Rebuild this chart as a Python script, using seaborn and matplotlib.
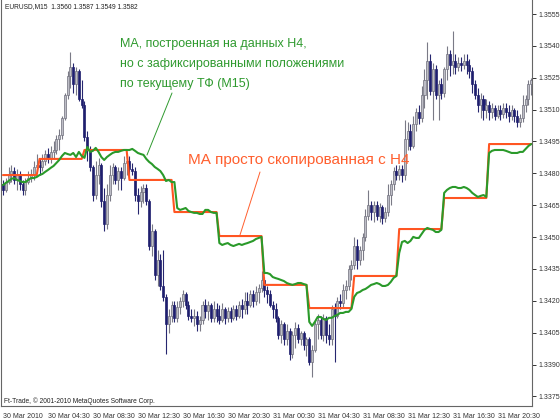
import numpy as np
import pandas as pd
import matplotlib
matplotlib.use("Agg")
import matplotlib.pyplot as plt
import seaborn as sns
from matplotlib.patches import Rectangle

# ---------------- data (EURUSD M15) ----------------
open_ = [1.3475,1.3472,1.3476,1.3479,1.3481,1.3477,1.3479,1.3475,1.3472,1.3476,
         1.3478,1.3479,1.3483,1.3484,1.3483,1.3486,1.3489,1.3487,1.3490,1.3491,
         1.3496,1.3498,1.3506,1.3517,1.3526,1.3530,1.3522,1.3528,1.3515,1.3512,
         1.3497,1.3491,1.3483,1.3470,1.3479,1.3484,1.3467,1.3456,1.3470,1.3479,
         1.3483,1.3477,1.3481,1.3478,1.3485,1.3486,1.3482,1.3481,1.3470,1.3467,
         1.3471,1.3473,1.3467,1.3446,1.3453,1.3432,1.3439,1.3427,1.3422,1.3409,
         1.3413,1.3418,1.3412,1.3417,1.3420,1.3423,1.3418,1.3413,1.3412,1.3413,
         1.3409,1.3411,1.3418,1.3415,1.3418,1.3412,1.3416,1.3413,1.3411,1.3416,
         1.3412,1.3415,1.3412,1.3416,1.3413,1.3418,1.3416,1.3420,1.3418,1.3423,
         1.3420,1.3424,1.3426,1.3430,1.3425,1.3423,1.3418,1.3416,1.3412,1.3404,
         1.3409,1.3402,1.3406,1.3395,1.3404,1.3407,1.3402,1.3405,1.3399,1.3402,
         1.3391,1.3397,1.3409,1.3411,1.3404,1.3412,1.3404,1.3402,1.3416,1.3413,
         1.3420,1.3419,1.3425,1.3427,1.3435,1.3437,1.3446,1.3439,1.3444,1.3450,
         1.3460,1.3465,1.3462,1.3465,1.3460,1.3464,1.3459,1.3462,1.3470,1.3475,
         1.3481,1.3479,1.3482,1.3479,1.3496,1.3500,1.3493,1.3503,1.3509,1.3506,
         1.3517,1.3524,1.3533,1.3519,1.3529,1.3517,1.3522,1.3518,1.3529,1.3536,
         1.3531,1.3533,1.3530,1.3532,1.3531,1.3533,1.3531,1.3528,1.3522,1.3517,
         1.3512,1.3515,1.3510,1.3512,1.3509,1.3511,1.3507,1.3510,1.3508,1.3511,
         1.3509,1.3507,1.3510,1.3507,1.3504,1.3506,1.3512,1.3515,1.3522]
close = [1.3472,1.3476,1.3479,1.3481,1.3477,1.3479,1.3475,1.3472,1.3476,1.3478,
         1.3479,1.3483,1.3484,1.3483,1.3486,1.3489,1.3487,1.3490,1.3491,1.3496,
         1.3498,1.3506,1.3517,1.3526,1.3530,1.3522,1.3528,1.3515,1.3512,1.3497,
         1.3491,1.3483,1.3470,1.3479,1.3484,1.3467,1.3456,1.3470,1.3479,1.3483,
         1.3477,1.3481,1.3478,1.3485,1.3486,1.3482,1.3481,1.3470,1.3467,1.3471,
         1.3473,1.3467,1.3446,1.3453,1.3432,1.3439,1.3427,1.3422,1.3409,1.3413,
         1.3418,1.3412,1.3417,1.3420,1.3423,1.3418,1.3413,1.3412,1.3413,1.3409,
         1.3411,1.3418,1.3415,1.3418,1.3412,1.3416,1.3413,1.3411,1.3416,1.3412,
         1.3415,1.3412,1.3416,1.3413,1.3418,1.3416,1.3420,1.3418,1.3423,1.3420,
         1.3424,1.3426,1.3430,1.3425,1.3423,1.3418,1.3416,1.3412,1.3404,1.3409,
         1.3402,1.3406,1.3395,1.3404,1.3407,1.3402,1.3405,1.3399,1.3402,1.3391,
         1.3397,1.3409,1.3411,1.3404,1.3412,1.3404,1.3402,1.3416,1.3413,1.3420,
         1.3419,1.3425,1.3427,1.3435,1.3437,1.3446,1.3439,1.3444,1.3450,1.3460,
         1.3465,1.3462,1.3465,1.3460,1.3464,1.3459,1.3462,1.3470,1.3475,1.3481,
         1.3479,1.3482,1.3479,1.3496,1.3500,1.3493,1.3503,1.3509,1.3506,1.3517,
         1.3524,1.3533,1.3519,1.3529,1.3517,1.3522,1.3518,1.3529,1.3536,1.3531,
         1.3533,1.3530,1.3532,1.3531,1.3533,1.3531,1.3528,1.3522,1.3517,1.3512,
         1.3515,1.3510,1.3512,1.3509,1.3511,1.3507,1.3510,1.3508,1.3511,1.3509,
         1.3507,1.3510,1.3507,1.3504,1.3506,1.3512,1.3515,1.3522,1.3524]
high = [1.3477,1.3478,1.3483,1.3484,1.3483,1.3482,1.3481,1.3477,1.3478,1.3481,
        1.3482,1.3486,1.3489,1.3487,1.3489,1.3491,1.3492,1.3493,1.3495,1.3498,
        1.3501,1.3507,1.3518,1.3528,1.3537,1.3532,1.3530,1.3529,1.3524,1.3514,
        1.3500,1.3493,1.3484,1.3486,1.3487,1.3485,1.3473,1.3475,1.3484,1.3485,
        1.3484,1.3483,1.3483,1.3488,1.3489,1.3488,1.3485,1.3483,1.3473,1.3474,
        1.3475,1.3475,1.3468,1.3456,1.3454,1.3444,1.3442,1.3444,1.3423,1.3416,
        1.3420,1.3420,1.3420,1.3422,1.3425,1.3424,1.3420,1.3416,1.3416,1.3415,
        1.3413,1.3420,1.3421,1.3420,1.3419,1.3420,1.3419,1.3418,1.3419,1.3417,
        1.3417,1.3417,1.3418,1.3418,1.3420,1.3421,1.3424,1.3424,1.3425,1.3425,
        1.3427,1.3428,1.3434,1.3431,1.3427,1.3425,1.3420,1.3419,1.3413,1.3411,
        1.3410,1.3409,1.3407,1.3406,1.3410,1.3409,1.3406,1.3406,1.3403,1.3403,
        1.3399,1.3411,1.3414,1.3413,1.3414,1.3413,1.3409,1.3418,1.3419,1.3422,
        1.3423,1.3428,1.3430,1.3437,1.3439,1.3450,1.3449,1.3446,1.3452,1.3463,
        1.3472,1.3467,1.3467,1.3467,1.3466,1.3465,1.3464,1.3475,1.3477,1.3483,
        1.3484,1.3484,1.3484,1.3505,1.3504,1.3503,1.3507,1.3511,1.3512,1.3521,
        1.3529,1.3542,1.3536,1.3532,1.3531,1.3524,1.3525,1.3530,1.3540,1.3538,
        1.3547,1.3536,1.3535,1.3535,1.3536,1.3536,1.3534,1.3530,1.3524,1.3520,
        1.3518,1.3517,1.3515,1.3514,1.3513,1.3512,1.3512,1.3512,1.3513,1.3513,
        1.3512,1.3512,1.3511,1.3510,1.3508,1.3517,1.3517,1.3524,1.3525]
low = [1.3470,1.3471,1.3475,1.3476,1.3475,1.3472,1.3472,1.3470,1.3470,1.3475,
       1.3476,1.3477,1.3481,1.3479,1.3481,1.3484,1.3485,1.3485,1.3487,1.3489,
       1.3491,1.3496,1.3505,1.3515,1.3520,1.3518,1.3517,1.3514,1.3511,1.3495,
       1.3486,1.3481,1.3467,1.3468,1.3475,1.3464,1.3453,1.3454,1.3467,1.3475,
       1.3475,1.3472,1.3472,1.3477,1.3479,1.3478,1.3479,1.3467,1.3461,1.3464,
       1.3466,1.3465,1.3444,1.3441,1.3430,1.3427,1.3425,1.3420,1.3395,1.3405,
       1.3410,1.3410,1.3410,1.3414,1.3417,1.3416,1.3411,1.3410,1.3408,1.3406,
       1.3406,1.3409,1.3412,1.3411,1.3410,1.3410,1.3410,1.3409,1.3410,1.3409,
       1.3410,1.3410,1.3411,1.3411,1.3412,1.3412,1.3414,1.3414,1.3417,1.3417,
       1.3418,1.3419,1.3424,1.3422,1.3419,1.3417,1.3412,1.3410,1.3402,1.3400,
       1.3399,1.3399,1.3392,1.3393,1.3398,1.3400,1.3399,1.3397,1.3394,1.3390,
       1.3384,1.3396,1.3402,1.3402,1.3401,1.3400,1.3399,1.3399,1.3391,1.3412,
       1.3416,1.3417,1.3421,1.3425,1.3430,1.3435,1.3435,1.3437,1.3439,1.3448,
       1.3458,1.3458,1.3457,1.3458,1.3457,1.3456,1.3457,1.3460,1.3465,1.3472,
       1.3477,1.3477,1.3476,1.3477,1.3491,1.3491,1.3492,1.3500,1.3503,1.3504,
       1.3511,1.3515,1.3517,1.3505,1.3515,1.3505,1.3515,1.3516,1.3524,1.3526,
       1.3527,1.3527,1.3528,1.3528,1.3529,1.3527,1.3525,1.3518,1.3515,1.3509,
       1.3506,1.3505,1.3506,1.3505,1.3506,1.3505,1.3506,1.3505,1.3506,1.3506,
       1.3504,1.3505,1.3504,1.3502,1.3502,1.3504,1.3509,1.3512,1.3517]

# MA built on H4 data, with positions fixed to the current timeframe (M15)
ma_m15 = [1.34745,1.34755,1.34764,1.34774,1.34778,1.34769,1.34764,1.34759,1.34759,1.34769,
          1.34778,1.34778,1.34783,1.34792,1.34797,1.34807,1.34816,1.34826,1.34835,1.34849,
          1.34863,1.34882,1.34896,1.34891,1.34887,1.34896,1.34877,1.34901,1.34882,1.34873,
          1.34924,1.34901,1.34906,1.34920,1.34901,1.34877,1.34863,1.34877,1.34887,1.34896,
          1.34901,1.34901,1.34906,1.34910,1.34910,1.34910,1.34915,1.34906,1.34896,1.34891,
          1.34887,1.34868,1.34854,1.34844,1.34830,1.34821,1.34811,1.34792,1.34764,1.34769,
          1.34759,1.34759,1.34637,1.34628,1.34632,1.34637,1.34623,1.34618,1.34614,1.34614,
          1.34609,1.34609,1.34628,1.34628,1.34618,1.34614,1.34614,1.34472,1.34463,1.34468,
          1.34472,1.34463,1.34458,1.34463,1.34468,1.34463,1.34468,1.34472,1.34477,1.34482,
          1.34491,1.34496,1.34501,1.34331,1.34331,1.34326,1.34312,1.34307,1.34303,1.34298,
          1.34293,1.34284,1.34279,1.34275,1.34279,1.34284,1.34284,1.34279,1.34275,1.34101,
          1.34082,1.34101,1.34124,1.34124,1.34115,1.34110,1.34120,1.34120,1.34129,1.34134,
          1.34143,1.34143,1.34148,1.34148,1.34162,1.34219,1.34237,1.34242,1.34251,1.34256,
          1.34265,1.34275,1.34279,1.34284,1.34279,1.34270,1.34270,1.34275,1.34289,1.34308,
          1.34317,1.34425,1.34477,1.34482,1.34472,1.34482,1.34501,1.34496,1.34496,1.34515,
          1.34534,1.34543,1.34538,1.34534,1.34524,1.34524,1.34534,1.34708,1.34722,1.34731,
          1.34736,1.34736,1.34731,1.34731,1.34736,1.34731,1.34722,1.34708,1.34698,1.34689,
          1.34694,1.34698,1.34689,1.34896,1.34906,1.34910,1.34910,1.34910,1.34910,1.34906,
          1.34901,1.34896,1.34896,1.34896,1.34901,1.34901,1.34915,1.34929,1.34938]

# MA simply copied from H4: one level per H4 bar, starting at these M15 bars
h4_levels = [1.34792, 1.34868, 1.34910, 1.34769, 1.34618, 1.34505,
             1.34275, 1.34166, 1.34317, 1.34538, 1.34684, 1.34938]
h4_start_bar = [0, 13, 29, 45, 61, 77, 93, 109, 125, 141, 157, 173]

x_tick_bars = [0, 16, 32, 48, 64, 80, 96, 112, 128, 144, 160, 176]
x_tick_labels = ["30 Mar 2010", "30 Mar 04:30", "30 Mar 08:30", "30 Mar 12:30",
                 "30 Mar 16:30", "30 Mar 20:30", "31 Mar 00:30", "31 Mar 04:30",
                 "31 Mar 08:30", "31 Mar 12:30", "31 Mar 16:30", "31 Mar 20:30"]
y_ticks = [1.3375, 1.3390, 1.3405, 1.3420, 1.3435, 1.3450, 1.3465,
           1.3480, 1.3495, 1.3510, 1.3525, 1.3540, 1.3555]

header = "EURUSD,M15  1.3560 1.3587 1.3549 1.3582"
copyright_txt = "Ft-Trade, \u00a9 2001-2010 MetaQuotes Software Corp."
green_text = ["МА, построенная на данных Н4,",
              "но с зафиксированными положениями",
              "по текущему ТФ (М15)"]
orange_text = "МА просто скопированная с Н4"

# ---------------- figure ----------------
sns.set_style("white")
plt.rcParams['font.family'] = ['Liberation Sans', 'DejaVu Sans']

W, H = 560, 420
fig = plt.figure(figsize=(W / 100, H / 100), dpi=100)
fig.patch.set_facecolor("white")
ax = fig.add_axes([1 / W, 14 / H, 531 / W, 406 / H])
ax.set_facecolor("white")

n = len(close)
bars = np.arange(n)
lengths = np.diff(h4_start_bar + [n])
h4_per_bar = np.repeat(h4_levels, lengths)

# candles
bull_face, bull_edge = "#bdbdc6", "#6f6f7c"
bear_face, bear_edge = "#1f1f6e", "#1f1f6e"
for i in range(n):
    o, c, hi, lo = open_[i], close[i], high[i], low[i]
    bull = c >= o
    wick_col = "#7a7a86" if bull else "#26266f"
    ax.vlines(i, lo, hi, colors=wick_col, linewidth=0.8, zorder=2)
    bottom = min(o, c)
    height = max(abs(c - o), 0.00003)
    ax.add_patch(Rectangle((i - 0.36, bottom), 0.72, height,
                           facecolor=bull_face if bull else bear_face,
                           edgecolor=bull_edge if bull else bear_edge,
                           linewidth=0.5, zorder=3))

df = pd.DataFrame({"bar": bars, "h4": h4_per_bar, "ma": ma_m15})
sns.lineplot(data=df, x="bar", y="h4", color="#ff5522", linewidth=1.5,
             ax=ax, zorder=4, legend=False)
sns.lineplot(data=df, x="bar", y="ma", color="#2a9a2a", linewidth=1.5,
             ax=ax, zorder=5, legend=False)

ax.set_xlim(-0.71, 188.26)
ax.set_ylim(1.33705, 1.35616)
ax.set_xlabel("")
ax.set_ylabel("")

ax.yaxis.tick_right()
ax.set_yticks(y_ticks)
ax.set_yticklabels([f"{v:.4f}" for v in y_ticks])
ax.set_xticks(x_tick_bars)
ax.set_xticklabels(x_tick_labels)
for lbl in ax.get_xticklabels():
    lbl.set_horizontalalignment("left")
ax.tick_params(axis="y", which="both", direction="out", length=3, width=0.7,
               colors="#333333", labelsize=5, pad=2, right=True, left=False)
ax.tick_params(axis="x", which="both", direction="out", length=3, width=0.7,
               colors="#333333", labelsize=5, pad=2)
for s in ["left", "bottom", "right"]:
    ax.spines[s].set_visible(True)
    ax.spines[s].set_color("#666666")
    ax.spines[s].set_linewidth(0.8)
ax.spines["top"].set_visible(False)
ax.grid(False)

def fx(px):
    return px / W

def fy(py):
    return 1 - py / H

# header and copyright
fig.text(fx(5), fy(7), header, fontsize=4.8, color="#222222", va="center", ha="left")
fig.text(fx(4), fy(401), copyright_txt, fontsize=4.8, color="#222222", va="center", ha="left")

# annotations
green_c = "#2f9a2f"
orange_c = "#ff5f2e"
for k, t in enumerate(green_text):
    fig.text(fx(120), fy(44 + 20 * k), t, fontsize=9.0, color=green_c,
             va="center", ha="left")
fig.text(fx(188), fy(160), orange_text, fontsize=11, color=orange_c,
         va="center", ha="left")

fig.add_artist(plt.Line2D([fx(172), fx(147)], [fy(93), fy(155)],
                          transform=fig.transFigure, color=green_c, linewidth=0.7))
fig.add_artist(plt.Line2D([fx(260), fx(240)], [fy(172), fy(235)],
                          transform=fig.transFigure, color=orange_c, linewidth=0.7))

fig.savefig("out.png", dpi=100, facecolor="white")
